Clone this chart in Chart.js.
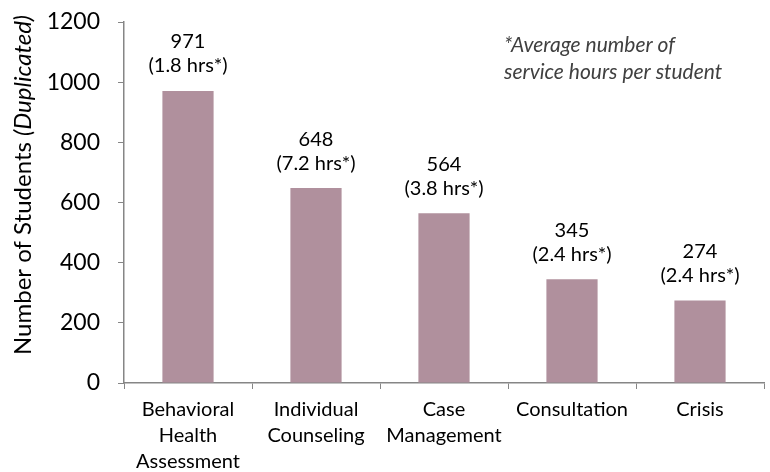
<!DOCTYPE html>
<html>
<head>
<meta charset="utf-8">
<script src="https://cdn.jsdelivr.net/npm/chart.js@4"></script>
<style>
html,body{margin:0;padding:0;background:#fff;}
#wrap{width:770px;height:472px;position:relative;}
</style>
</head>
<body>
<div id="wrap"><canvas id="c" width="770" height="472"></canvas></div>
<script>
const categories = [["Behavioral","Health","Assessment"],["Individual","Counseling"],["Case","Management"],["Consultation"],["Crisis"]];
const students = [971, 648, 564, 345, 274];
const avgHours = ["1.8", "7.2", "3.8", "2.4", "2.4"];
const yTicks = [0, 200, 400, 600, 800, 1000, 1200];

const FONT = "Lato, 'Open Sans', sans-serif";
const AXIS = "#868686";

const labelPlugin = {
  id: 'labels',
  afterDatasetsDraw(chart) {
    const ctx = chart.ctx;
    const meta = chart.getDatasetMeta(0);
    ctx.save();
    ctx.fillStyle = '#000';
    ctx.font = '20px ' + FONT;
    ctx.textAlign = 'center';
    ctx.textBaseline = 'middle';
    meta.data.forEach((bar, i) => {
      ctx.fillText(String(students[i]), bar.x, bar.y - 49);
      ctx.fillText('(' + avgHours[i] + ' hrs*)', bar.x, bar.y - 25);
    });
    // note
    ctx.fillStyle = '#404040';
    ctx.font = 'italic 21px ' + FONT;
    ctx.textAlign = 'left';
    ctx.fillText('*Average number of', 504, 45);
    ctx.fillText('service hours per student', 504, 72);
    // y title with mixed style
    ctx.translate(23, 185);
    ctx.rotate(-Math.PI / 2);
    ctx.fillStyle = '#000';
    const a = 'Number of Students ';
    const b = '(Duplicated)';
    ctx.font = '24px ' + FONT;
    const wa = ctx.measureText(a).width;
    ctx.font = 'italic 24px ' + FONT;
    const wb = ctx.measureText(b).width;
    const start = -(wa + wb) / 2;
    ctx.textAlign = 'left';
    ctx.font = '24px ' + FONT;
    ctx.fillText(a, start, 0);
    ctx.font = 'italic 24px ' + FONT;
    ctx.fillText(b, start + wa, 0);
    ctx.restore();
  }
};

new Chart(document.getElementById('c'), {
  type: 'bar',
  data: {
    labels: categories,
    datasets: [{
      data: students,
      backgroundColor: '#b0909d',
      barPercentage: 0.4,
      categoryPercentage: 1.0
    }]
  },
  options: {
    responsive: false,
    animation: false,
    devicePixelRatio: 1,
    layout: { padding: { top: 22, right: 6, left: 0, bottom: 0 } },
    plugins: { legend: { display: false }, tooltip: { enabled: false } },
    scales: {
      x: {
        grid: { display: true, drawOnChartArea: false, drawTicks: true, tickLength: 6, color: AXIS, offset: true },
        border: { display: true, color: AXIS, width: 1.5 },
        ticks: { color: '#000', font: { family: FONT, size: 20, lineHeight: 1.3 }, maxRotation: 0, autoSkip: false, padding: 8 },
        afterFit(s) { s.height = 89; s.paddingLeft = 0; s.paddingRight = 0; }
      },
      y: {
        min: 0, max: 1200,
        afterBuildTicks(s) { s.ticks = yTicks.map(v => ({ value: v })); },
        grid: { display: true, drawOnChartArea: false, drawTicks: true, tickLength: 6, color: AXIS },
        border: { display: true, color: AXIS, width: 1.5 },
        ticks: { color: '#000', font: { family: FONT, size: 23 }, padding: 18, callback: v => String(v) },
        afterFit(s) { s.width = 124; s.paddingTop = 0; s.paddingBottom = 0; }
      }
    }
  },
  plugins: [labelPlugin]
});
</script>
</body>
</html>
